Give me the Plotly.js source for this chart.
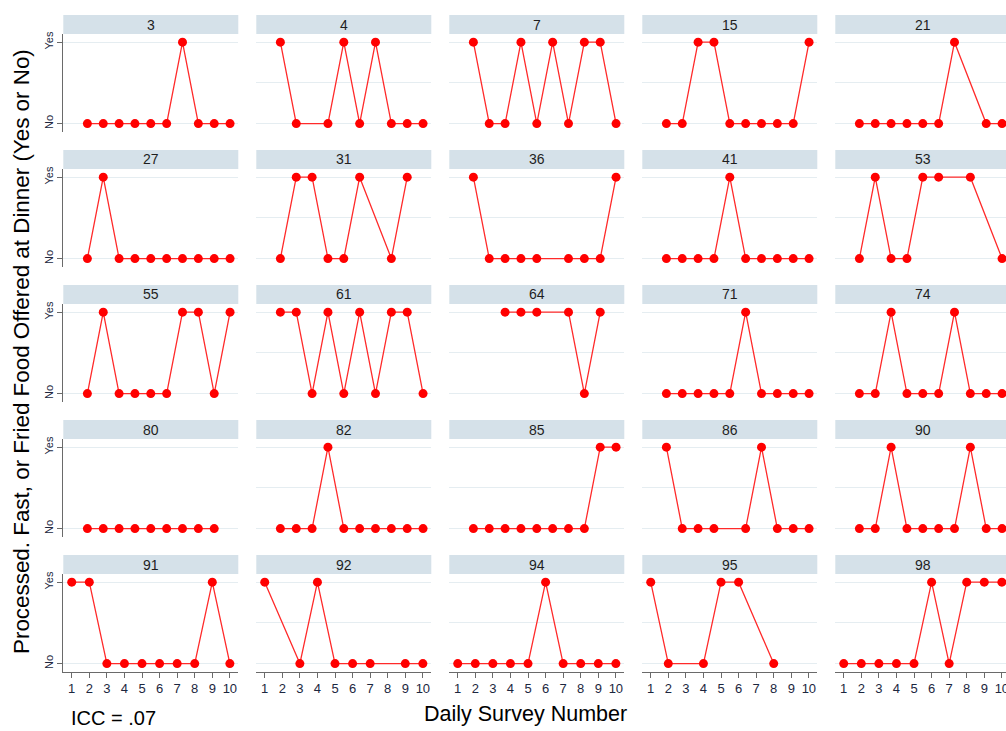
<!DOCTYPE html>
<html>
<head>
<meta charset="utf-8">
<script src="https://cdn.plot.ly/plotly-3.0.1.min.js"></script>
<style>
html, body { margin: 0; padding: 0; overflow: hidden; background: #ffffff; }
#chart { width: 1012px; height: 731px; }
</style>
</head>
<body>
<div id="chart"></div>
<script>
// ---- Data (1 = Yes, 0 = No, null = no survey that day) ----
const days = [1, 2, 3, 4, 5, 6, 7, 8, 9, 10];
const panelIds = ["3", "4", "7", "15", "21",
                  "27", "31", "36", "41", "53",
                  "55", "61", "64", "71", "74",
                  "80", "82", "85", "86", "90",
                  "91", "92", "94", "95", "98"];
const v3  = [0, 0, 0, 0, 0, 0, 1, 0, 0, 0];
const v4  = [1, 0, null, 0, 1, 0, 1, 0, 0, 0];
const v7  = [1, 0, 0, 1, 0, 1, 0, 1, 1, 0];
const v15 = [0, 0, 1, 1, 0, 0, 0, 0, 0, 1];
const v21 = [0, 0, 0, 0, 0, 0, 1, null, 0, 0];
const v27 = [0, 1, 0, 0, 0, 0, 0, 0, 0, 0];
const v31 = [0, 1, 1, 0, 0, 1, null, 0, 1, null];
const v36 = [1, 0, 0, 0, 0, null, 0, 0, 0, 1];
const v41 = [0, 0, 0, 0, 1, 0, 0, 0, 0, 0];
const v53 = [0, 1, 0, 0, 1, 1, null, 1, null, 0];
const v55 = [0, 1, 0, 0, 0, 0, 1, 1, 0, 1];
const v61 = [1, 1, 0, 1, 0, 1, 0, 1, 1, 0];
const v64 = [null, null, 1, 1, 1, null, 1, 0, 1, null];
const v71 = [0, 0, 0, 0, 0, 1, 0, 0, 0, 0];
const v74 = [0, 0, 1, 0, 0, 0, 1, 0, 0, 0];
const v80 = [0, 0, 0, 0, 0, 0, 0, 0, 0, null];
const v82 = [0, 0, 0, 1, 0, 0, 0, 0, 0, 0];
const v85 = [0, 0, 0, 0, 0, 0, 0, 0, 1, 1];
const v86 = [1, 0, 0, 0, null, 0, 1, 0, 0, 0];
const v90 = [0, 0, 1, 0, 0, 0, 0, 1, 0, 0];
const v91 = [1, 1, 0, 0, 0, 0, 0, 0, 1, 0];
const v92 = [1, null, 0, 1, 0, 0, 0, null, 0, 0];
const v94 = [0, 0, 0, 0, 0, 1, 0, 0, 0, 0];
const v95 = [1, 0, null, 0, 1, 1, null, 0, null, null];
const v98 = [0, 0, 0, 0, 0, 1, 0, 1, 1, 1];
const yTickVals = [0, 1];
const yTickText = ["No", "Yes"];
const yTitle = "Processed. Fast, or Fried Food Offered at Dinner (Yes or No)";
const xTitle = "Daily Survey Number";
const noteText = "ICC = .07";

const panelValues = [v3, v4, v7, v15, v21, v27, v31, v36, v41, v53,
                     v55, v61, v64, v71, v74, v80, v82, v85, v86, v90,
                     v91, v92, v94, v95, v98];

// ---- Layout geometry (pixels) ----
const W = 1012, H = 731;
const colStart0 = 63.3, colPitch = 193.0, colWidth = 175;
const rowPitch = 135, headTop0 = 15, headBot0 = 34, plotBot0 = 131.7;
const px = x => x / W;
const py = y => 1 - y / H;

const FONT = "Liberation Sans, Arial, Helvetica, sans-serif";
const RED = "#ff0000";
const LINE_RED = "#ff2a2a";
const GRID = "#e5edf1";
const AXIS = "#6a6a6a";
const TICKTXT = "#1c2740";
const HEADFILL = "#d5e1e9";

const traces = [];
const layout = {
  width: W, height: H,
  margin: { l: 0, r: 0, t: 0, b: 0 },
  paper_bgcolor: "#ffffff",
  plot_bgcolor: "#ffffff",
  showlegend: false,
  font: { family: FONT },
  shapes: [],
  annotations: []
};

for (let i = 0; i < panelIds.length; i++) {
  const r = Math.floor(i / 5), c = i % 5;
  const n = i + 1;
  const xa = n === 1 ? "x" : "x" + n;
  const ya = n === 1 ? "y" : "y" + n;
  const xl = n === 1 ? "xaxis" : "xaxis" + n;
  const yl = n === 1 ? "yaxis" : "yaxis" + n;

  const x0 = colStart0 + colPitch * c, x1 = x0 + colWidth;
  const hT = headTop0 + rowPitch * r, hB = headBot0 + rowPitch * r, pB = plotBot0 + rowPitch * r;
  const bottom = r === 4;

  traces.push({
    x: days, y: panelValues[i],
    xaxis: xa, yaxis: ya,
    type: "scatter", mode: "lines+markers",
    connectgaps: true,
    cliponaxis: false,
    line: { color: LINE_RED, width: 1.3 },
    marker: { color: RED, size: 9 },
    hoverinfo: "skip"
  });

  layout[xl] = {
    domain: [px(x0), px(x1)],
    anchor: ya,
    range: bottom ? [0.52, 10.48] : [-0.52, 10.52],
    showgrid: false, zeroline: false,
    showline: bottom, linecolor: AXIS, linewidth: 1,
    ticks: bottom ? "outside" : "", ticklen: 5, tickcolor: AXIS, tickwidth: 1,
    tickmode: "array", tickvals: days,
    showticklabels: bottom,
    tickfont: { family: FONT, size: 13, color: TICKTXT },
    fixedrange: true
  };

  layout[yl] = {
    domain: [py(pB), py(hB)],
    anchor: xa,
    range: [-0.1, 1.1],
    zeroline: false,
    showgrid: true, gridcolor: GRID, gridwidth: 1,
    tickmode: "array",
    tickvals: c === 0 ? yTickVals : [0, 0.5, 1],
    ticktext: c === 0 ? yTickText : ["", "", ""],
    showticklabels: c === 0,
    ticks: c === 0 ? "outside" : "", ticklen: 5, tickcolor: AXIS, tickwidth: 1,
    tickangle: -90,
    tickfont: { family: FONT, size: 11, color: TICKTXT },
    showline: c === 0, linecolor: AXIS, linewidth: 1,
    fixedrange: true
  };

  layout.shapes.push({
    type: "rect", xref: "paper", yref: "paper",
    x0: px(x0), x1: px(x1), y0: py(hB), y1: py(hT),
    fillcolor: HEADFILL, line: { width: 0 }, layer: "below"
  });
  layout.annotations.push({
    xref: "paper", yref: "paper",
    x: px((x0 + x1) / 2), y: py((hT + hB) / 2),
    text: panelIds[i], showarrow: false,
    xanchor: "center", yanchor: "middle",
    font: { family: FONT, size: 14, color: "#1e1e1e" }
  });
}

layout.annotations.push({
  xref: "paper", yref: "paper",
  x: px(21), y: py(352), text: yTitle, textangle: -90,
  showarrow: false, xanchor: "center", yanchor: "middle",
  font: { family: FONT, size: 22.4, color: "#000000" }
});
layout.annotations.push({
  xref: "paper", yref: "paper",
  x: px(525), y: py(714), text: xTitle,
  showarrow: false, xanchor: "center", yanchor: "middle",
  font: { family: FONT, size: 21.5, color: "#000000" }
});
layout.annotations.push({
  xref: "paper", yref: "paper",
  x: px(69), y: py(718), text: noteText,
  showarrow: false, xanchor: "left", yanchor: "middle",
  font: { family: FONT, size: 20, color: "#000000" }
});

Plotly.newPlot("chart", traces, layout, { staticPlot: true, displayModeBar: false });
</script>
</body>
</html>
